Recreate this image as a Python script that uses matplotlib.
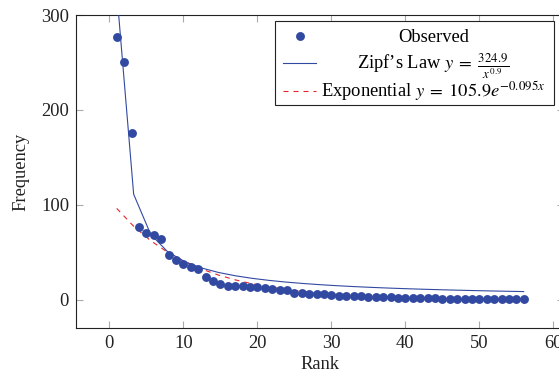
import numpy as np
import matplotlib
matplotlib.use("Agg")
import matplotlib.pyplot as plt
from matplotlib.transforms import Bbox

plt.rcParams['font.family'] = ['Liberation Serif', 'DejaVu Serif']
plt.rcParams['mathtext.fontset'] = 'stix'

# Observed rank-frequency data (ranks 1..56)
ranks = list(range(1, 57))
observed = [277, 251, 176, 77, 70, 68, 64, 47, 42, 38,
            35, 32, 24, 20, 17, 15, 15, 15, 13, 13,
            12, 11, 10, 10, 7, 7, 6, 6, 6, 5,
            4, 4, 4, 4, 3, 3, 3, 3, 2, 2,
            2, 2, 2, 2, 1, 1, 1, 1, 1, 1,
            1, 1, 1, 1, 1, 1]

# Fitted model parameters (as given in the legend)
zipf_a, zipf_b = 324.9, 0.9
exp_a, exp_b = 105.9, -0.095
fit_domain = (1, 56)
fit_samples = 25

xticks = [0, 10, 20, 30, 40, 50, 60]
yticks = [0, 100, 200, 300]

labels = ['Observed',
          r"Zipf’s Law $y\;=\;\frac{324.9}{x^{0.9}}$",
          r"Exponential $y\;=\;105.9e^{-0.095x}$"]

W, H = 559, 380
fig = plt.figure(figsize=(W / 100, H / 100), dpi=100)
ax = fig.add_axes([76 / W, 1 - 328.3 / H, 488.4 / W, 313.3 / H])

blue = '#3249a2'
red = '#e8232a'
ink = '#222222'
fs = 13.3

xs = np.linspace(fit_domain[0], fit_domain[1], fit_samples)
ax.plot(ranks, observed, 'o', color=blue, markersize=6.4, markeredgewidth=0,
        zorder=4, label=labels[0])
ax.plot(xs, zipf_a / xs ** zipf_b, '-', color=blue, linewidth=0.8, zorder=3,
        label=labels[1])
ax.plot(xs, exp_a * np.exp(exp_b * xs), color=red, linewidth=0.8, zorder=2,
        linestyle=(0, (4.5, 4.5)), label=labels[2])

ax.set_xlim(-4.5, 61.5)
ax.set_ylim(-30, 300)
ax.set_xticks(xticks)
ax.set_yticks(yticks)
ax.tick_params(direction='in', length=5, width=0.8, color='#aaaaaa',
               top=True, right=True, labelsize=fs, pad=5.0, labelcolor=ink)
for s in ax.spines.values():
    s.set_linewidth(0.8)
    s.set_color(ink)

ax.set_xlabel('Rank', fontsize=fs, labelpad=3, color=ink)
ax.set_ylabel('Frequency', fontsize=fs, labelpad=8, color=ink)

leg = ax.legend(loc='upper right', bbox_to_anchor=(554 / W, 1 - 21 / H),
                bbox_transform=fig.transFigure, borderaxespad=0,
                fontsize=fs, numpoints=1, handlelength=1.75, handletextpad=0.3,
                borderpad=0.45, labelspacing=0.78, fancybox=False,
                framealpha=1, edgecolor=ink)
leg.get_frame().set_linewidth(0.8)


# TeX-like fixed row heights: let math labels overflow their row box
def slim(text):
    orig = text._get_layout

    def layout(renderer):
        bbox, info, yd = orig(renderer)
        return Bbox.from_bounds(bbox.x0, bbox.y0, bbox.width, 1), info, 0
    text._get_layout = layout


texts = leg.get_texts()
for t in texts:
    slim(t)

# center the legend texts within the text column
fig.canvas.draw()
widths = [t.get_window_extent().width for t in texts]
mw = max(widths)
for t, w in zip(texts, widths):
    t.set_x((mw - w) / 2)

fig.savefig('out.png', dpi=100)
